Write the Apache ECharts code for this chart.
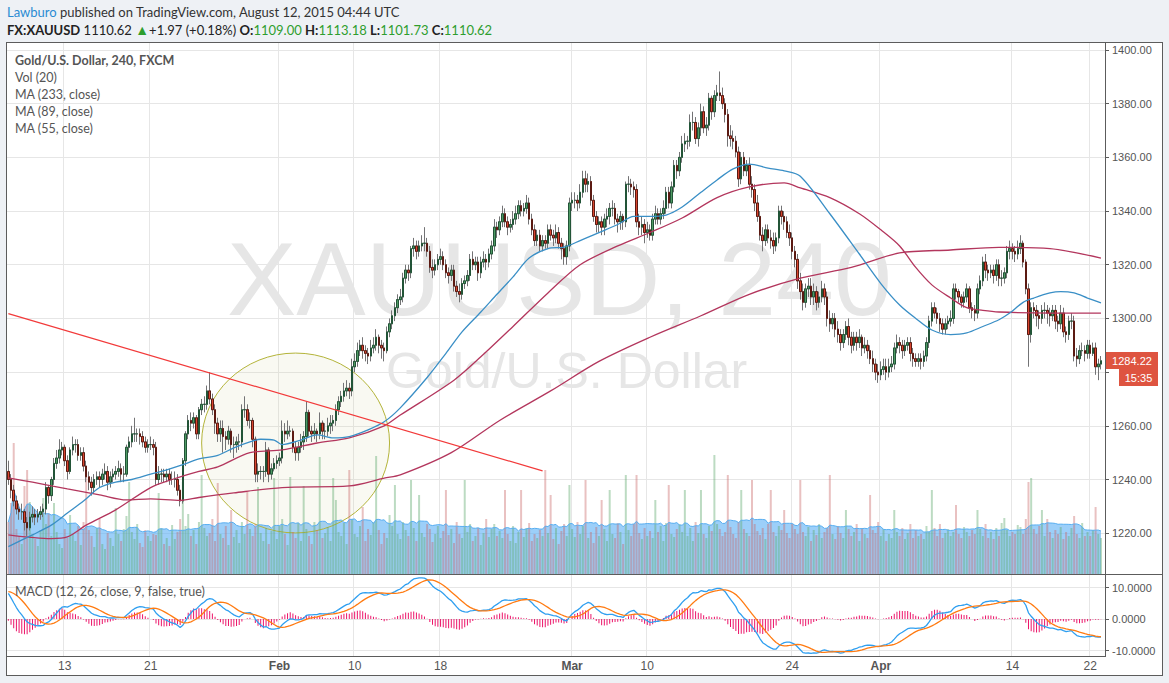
<!DOCTYPE html>
<html><head><meta charset="utf-8"><title>XAUUSD 240</title>
<script src="https://cdn.jsdelivr.net/npm/echarts@6.0.0/dist/echarts.min.js"></script>
<style>
html,body{margin:0;padding:0;}
body{width:1169px;height:683px;overflow:hidden;background:#eef1f5;position:relative;font-family:Lato,'Liberation Sans',sans-serif;}
#box{position:absolute;left:6px;top:42px;width:1157px;height:634px;box-sizing:border-box;border:1px solid #5c5c5c;background:#fff;}
.wm{position:absolute;white-space:nowrap;color:#e6e6e6;font-family:'Liberation Sans',Arial,sans-serif;line-height:1;}
#chart{position:absolute;left:0;top:0;width:1169px;height:683px;}
.hd{position:absolute;left:7px;white-space:nowrap;font-size:13px;line-height:16px;color:#333;}
.hd .g{color:#2e9e2e;}
.lg{position:absolute;left:15px;white-space:nowrap;font-size:12.5px;line-height:17px;color:#555;}
.ln{position:absolute;background:#5c5c5c;}
</style></head>
<body>
<div id="box"></div>
<div class="wm" style="left:227px;top:227px;font-size:104px;">XAUUSD, 240</div>
<div class="wm" style="left:386px;top:346px;font-size:50px;">Gold/U.S. Dollar</div>
<div id="chart"></div>
<div class="ln" style="left:6px;top:574px;width:1157px;height:1px"></div>
<div class="ln" style="left:6px;top:656px;width:1100px;height:1px"></div>
<div class="ln" style="left:1105px;top:42px;width:1px;height:615px"></div>
<div class="hd" style="top:4px"><span style="color:#2a8bd3">Lawburo</span> published on TradingView.com, August 12, 2015 04:44 UTC</div>
<div class="hd" style="top:22px;color:#222"><b>FX:XAUUSD</b> 1110.62 <span class="g" style="font-size:14px">&#9650;</span>+1.97 (+0.18%) <b>O:</b><span class="g">1109.00</span> <b>H:</b><span class="g">1113.18</span> <b>L:</b><span class="g">1101.73</span> <b>C:</b><span class="g">1110.62</span></div>
<div class="lg" style="top:52px"><b>Gold/U.S. Dollar, 240, FXCM</b><br>Vol (20)<br>MA (233, close)<br>MA (89, close)<br>MA (55, close)</div>
<div class="lg" style="top:583px">MACD (12, 26, close, 9, false, true)</div>
<script>
const firstOpen = 1243;
const closes = [
1240,1236,1232,1229,1228,1228,1224,1222,1226,1227,
1226,1227,1228,1229,1237,1234,1240,1246,1248,1251,
1252,1247,1243,1251,1253,1253,1249,1250,1245,1241,
1239,1237,1240,1241,1240,1242,1243,1239,1241,1242,
1243,1244,1242,1242,1252,1254,1257,1257,1257,1256,
1254,1252,1253,1253,1252,1240,1242,1242,1241,1242,
1240,1240,1240,1236,1232,1247,1257,1262,1261,1263,
1257,1266,1268,1268,1273,1270,1266,1261,1257,1259,
1256,1255,1258,1253,1253,1254,1254,1266,1266,1262,
1262,1255,1242,1243,1243,1243,1251,1242,1244,1246,
1247,1248,1258,1257,1258,1258,1252,1250,1252,1254,
1256,1265,1258,1257,1258,1257,1261,1258,1258,1260,
1261,1262,1266,1269,1271,1273,1274,1273,1282,1284,
1288,1290,1288,1287,1286,1289,1290,1293,1290,1289,
1288,1295,1298,1301,1304,1307,1308,1315,1318,1317,
1326,1327,1325,1327,1328,1328,1325,1319,1318,1320,
1322,1323,1320,1317,1316,1318,1312,1310,1309,1313,
1314,1316,1322,1320,1321,1317,1321,1322,1321,1324,
1327,1334,1333,1336,1339,1336,1334,1335,1337,1339,
1342,1340,1341,1343,1337,1333,1329,1331,1327,1329,
1328,1333,1331,1330,1332,1328,1326,1323,1327,1343,
1344,1344,1343,1347,1352,1350,1351,1344,1338,1335,
1336,1334,1337,1338,1341,1341,1337,1336,1338,1336,
1350,1350,1349,1348,1336,1334,1335,1332,1333,1331,
1337,1339,1337,1339,1341,1347,1343,1349,1357,1355,
1360,1365,1366,1366,1373,1373,1367,1371,1377,1371,
1372,1382,1377,1383,1384,1383,1380,1376,1368,1367,
1366,1362,1352,1360,1355,1357,1350,1348,1343,1338,
1331,1329,1333,1330,1329,1327,1330,1340,1338,1336,
1332,1330,1325,1322,1314,1310,1306,1311,1312,1308,
1310,1306,1308,1311,1308,1300,1298,1300,1296,1294,
1291,1294,1297,1293,1290,1293,1291,1293,1289,1290,
1288,1285,1283,1280,1279,1281,1282,1280,1282,1283,
1289,1291,1290,1288,1290,1291,1287,1285,1284,1285,
1284,1286,1291,1299,1304,1302,1300,1298,1296,1298,
1299,1300,1311,1310,1308,1306,1308,1311,1304,1303,
1302,1311,1314,1321,1318,1317,1318,1316,1320,1315,
1315,1317,1325,1326,1325,1324,1326,1328,1321,1311,
1294,1304,1303,1301,1300,1303,1303,1302,1301,1303,
1299,1298,1302,1295,1294,1299,1299,1286,1285,1288,
1288,1287,1290,1287,1289,1282,1283,1284.22];
const highs = [
1247,1242,1238,1234,1231,1231,1229,1226,1228,1230,
1229,1229,1230,1231,1239,1238,1241,1248,1251,1255,
1254,1253,1249,1252,1256,1255,1255,1252,1252,1247,
1243,1241,1242,1243,1243,1244,1246,1245,1243,1244,
1245,1247,1246,1245,1253,1256,1260,1263,1259,1259,
1258,1256,1255,1256,1255,1254,1245,1244,1244,1244,
1244,1243,1243,1242,1238,1248,1258,1264,1265,1265,
1264,1267,1270,1271,1275,1280,1272,1268,1263,1262,
1262,1258,1260,1259,1256,1256,1257,1268,1271,1268,
1265,1263,1256,1246,1245,1245,1254,1252,1246,1248,
1249,1250,1262,1261,1262,1260,1259,1254,1254,1257,
1258,1269,1266,1260,1261,1259,1265,1262,1261,1263,
1264,1264,1268,1271,1273,1276,1277,1276,1285,1287,
1291,1292,1293,1290,1289,1292,1293,1296,1294,1292,
1291,1297,1300,1303,1306,1309,1311,1317,1320,1320,
1327,1330,1329,1329,1331,1334,1330,1327,1322,1322,
1324,1326,1325,1322,1319,1320,1320,1314,1313,1315,
1316,1318,1324,1325,1323,1323,1323,1325,1324,1326,
1329,1337,1336,1338,1342,1341,1338,1337,1340,1342,
1344,1344,1343,1346,1345,1339,1335,1333,1333,1331,
1331,1335,1335,1333,1335,1334,1330,1328,1329,1345,
1347,1347,1346,1350,1355,1355,1354,1353,1346,1340,
1338,1338,1339,1341,1343,1344,1343,1339,1340,1339,
1351,1353,1352,1351,1350,1339,1338,1337,1336,1335,
1339,1342,1341,1341,1344,1349,1349,1351,1359,1359,
1362,1368,1369,1368,1376,1377,1375,1373,1380,1379,
1375,1384,1383,1385,1387,1392,1386,1382,1378,1372,
1370,1368,1364,1362,1362,1359,1360,1353,1350,1346,
1340,1334,1335,1335,1333,1332,1332,1342,1342,1340,
1338,1335,1332,1327,1324,1317,1313,1313,1315,1315,
1313,1312,1310,1314,1313,1310,1303,1302,1302,1299,
1296,1296,1299,1300,1295,1295,1295,1296,1294,1293,
1292,1290,1288,1285,1283,1284,1285,1285,1285,1286,
1291,1294,1293,1292,1292,1293,1293,1289,1287,1287,
1287,1288,1293,1301,1306,1306,1304,1302,1300,1300,
1301,1303,1313,1313,1311,1309,1310,1313,1312,1306,
1305,1313,1316,1323,1324,1320,1320,1320,1322,1322,
1318,1319,1327,1329,1328,1327,1329,1331,1329,1322,
1313,1306,1306,1305,1303,1305,1306,1305,1304,1305,
1305,1301,1305,1304,1297,1301,1302,1301,1289,1290,
1291,1290,1292,1292,1291,1291,1285,1286];
const lows = [
1238,1233,1230,1227,1225,1225,1221,1219,1221,1224,
1223,1224,1225,1226,1227,1231,1232,1238,1244,1246,
1249,1245,1240,1242,1249,1250,1247,1247,1243,1239,
1236,1234,1235,1238,1237,1238,1240,1236,1237,1239,
1240,1241,1239,1239,1241,1250,1252,1254,1254,1253,
1252,1250,1250,1251,1249,1238,1238,1239,1239,1239,
1238,1238,1237,1234,1230,1231,1245,1255,1258,1259,
1255,1255,1264,1265,1266,1268,1264,1257,1254,1254,
1250,1251,1253,1250,1248,1250,1251,1252,1263,1260,
1259,1252,1239,1239,1240,1239,1241,1239,1240,1243,
1244,1245,1246,1254,1255,1256,1250,1247,1247,1250,
1251,1254,1256,1254,1255,1254,1255,1255,1255,1256,
1257,1258,1260,1264,1267,1269,1271,1270,1271,1280,
1282,1286,1285,1284,1283,1284,1287,1288,1287,1285,
1284,1287,1293,1296,1299,1302,1305,1306,1313,1314,
1315,1323,1322,1323,1325,1325,1323,1317,1315,1316,
1318,1320,1318,1315,1313,1314,1310,1308,1306,1307,
1311,1312,1314,1318,1318,1314,1315,1319,1318,1319,
1322,1325,1330,1331,1334,1334,1331,1332,1333,1335,
1337,1338,1338,1339,1335,1331,1327,1327,1325,1325,
1326,1326,1329,1327,1328,1326,1322,1320,1320,1325,
1340,1341,1340,1341,1345,1347,1347,1342,1336,1332,
1332,1331,1331,1334,1335,1338,1335,1332,1333,1333,
1334,1347,1346,1345,1334,1331,1331,1328,1330,1329,
1329,1335,1335,1335,1337,1339,1341,1341,1347,1352,
1353,1358,1362,1363,1364,1370,1365,1364,1368,1369,
1368,1370,1374,1375,1381,1381,1378,1373,1364,1364,
1363,1360,1349,1350,1353,1353,1348,1345,1340,1336,
1329,1325,1327,1328,1326,1324,1325,1328,1335,1333,
1330,1327,1322,1319,1311,1307,1303,1304,1308,1305,
1305,1303,1304,1306,1305,1297,1295,1296,1293,1291,
1288,1289,1292,1290,1287,1288,1288,1289,1286,1287,
1285,1283,1280,1277,1276,1277,1279,1277,1278,1280,
1281,1287,1287,1285,1286,1288,1284,1282,1282,1282,
1281,1282,1284,1289,1297,1300,1298,1295,1294,1294,
1296,1297,1298,1307,1306,1304,1304,1306,1302,1300,
1299,1300,1309,1312,1315,1314,1315,1313,1314,1312,
1312,1313,1315,1322,1322,1321,1322,1324,1319,1309,
1282,1291,1300,1297,1296,1298,1300,1298,1297,1299,
1296,1295,1296,1293,1291,1292,1296,1284,1282,1283,
1286,1284,1285,1285,1286,1279,1277,1281];
const volumes = [
52,71,131,45,38,30,88,104,72,40,
35,28,44,76,50,61,38,71,42,30,
26,45,36,59,40,33,48,29,52,101,
44,38,27,46,55,30,25,41,36,28,
66,40,33,45,58,92,42,35,50,31,
27,44,38,33,40,39,81,46,30,36,
28,49,35,42,55,92,48,60,38,44,
30,52,99,46,38,41,55,33,91,40,
36,48,29,64,37,44,31,52,40,82,
45,38,50,87,41,33,46,30,43,96,
35,48,55,40,29,97,42,36,51,33,
88,45,38,30,52,44,117,36,41,47,
33,96,74,42,38,51,30,104,55,40,
37,48,67,33,45,39,52,118,44,30,
41,36,59,48,89,40,35,52,44,38,
94,46,33,79,41,37,50,45,32,40,
48,36,43,84,39,45,31,52,40,36,
94,42,50,33,38,46,29,41,55,37,
45,50,38,43,36,84,40,33,48,31,
42,84,37,46,51,33,40,36,44,38,
104,41,79,35,46,30,43,50,38,89,
45,37,52,40,48,94,36,42,31,47,
38,74,45,33,84,40,36,51,42,30,
99,44,38,50,99,41,35,46,38,43,
36,74,42,48,33,51,89,40,37,45,
50,42,84,38,46,33,52,41,84,40,
36,48,43,119,50,45,38,42,99,47,
40,36,52,84,45,41,38,94,50,43,
39,46,35,50,84,42,38,48,44,64,
41,36,50,45,40,94,42,38,47,33,
44,39,50,36,42,46,99,40,35,48,
41,36,64,45,38,42,50,33,46,40,
36,79,44,41,52,38,45,33,40,36,
64,42,38,46,35,41,50,36,44,38,
40,35,48,42,84,46,38,50,36,41,
45,38,42,69,40,36,47,42,38,44,
40,64,45,38,50,36,42,35,46,38,
51,56,44,38,42,40,49,47,40,55,
92,96,45,40,48,64,38,55,42,36,
44,40,47,35,42,38,46,58,40,36,
51,38,42,38,44,67,40,36];
// moving averages: [candle index, value]
const ma55 = [[0,1215],[9,1219.4],[16,1223],[22,1227.5],[28,1232],[34,1237],[40,1239],[46,1240],[53,1242],[59,1243.6],[65,1245.5],[71,1247.7],[78,1249],[84,1251.8],[90,1254],[94,1255],[99,1254.7],[102,1253],[109,1254.7],[115,1256.6],[121,1255.5],[127,1256],[134,1258.5],[140,1261.5],[146,1266.7],[156,1278],[163,1287],[169,1295],[176,1302.4],[182,1309],[188,1315.5],[194,1322.5],[201,1326],[207,1326.6],[213,1329],[220,1332],[227,1335],[233,1338],[239,1338],[245,1338.5],[251,1341.5],[258,1347],[264,1351.6],[270,1355.7],[276,1357.5],[283,1356],[289,1355],[295,1353],[306,1339],[317,1324],[325,1313],[332,1305],[338,1300],[344,1295.7],[351,1294],[357,1294.6],[363,1297],[369,1299.5],[373,1302],[378,1306],[382,1307.6],[388,1309.5],[392,1310],[397,1309.5],[402,1307.6],[407,1305.8]];
const ma89 = [[0,1219.4],[16,1218],[22,1218.6],[29,1223],[40,1228.7],[53,1237],[61,1240],[71,1243],[78,1244.7],[90,1250],[102,1251],[115,1253.6],[127,1255.5],[140,1260],[146,1264],[166,1277],[176,1285.7],[188,1297],[201,1309.5],[213,1320],[227,1327],[239,1332],[251,1337.4],[264,1345],[276,1349],[289,1350.5],[295,1348.6],[306,1345],[317,1339],[325,1333],[332,1327],[338,1319],[344,1312.5],[351,1307.6],[357,1304],[363,1303],[369,1302.4],[388,1302],[407,1302]];
const ma233 = [[0,1240.6],[9,1239],[22,1236.5],[34,1234.3],[44,1232.4],[53,1232.8],[64,1232.2],[71,1233.3],[84,1235],[102,1237],[127,1237.6],[140,1240.5],[146,1241.7],[165,1250],[183,1262],[202,1273],[220,1284],[239,1293],[258,1301],[276,1309],[295,1315],[314,1319],[332,1324.4],[351,1325.5],[369,1326.5],[388,1326],[407,1322.5]];
const trendLine = [[0,1301.8],[199,1243.2]];
const circleMark = {idx:107, price:1253.6, rIdx:35, rPrice:33.5};
const macdSeed = {fast:1248, slow:1238.5, signal:8.8};
const tickIdx = [21,53,101,129,161,210,238,292,325,374,403];
const tickText = ['13','21','Feb','10','18','Mar','10','24','Apr','14','22'];
const priceTicks = [1220,1240,1260,1280,1300,1320,1340,1360,1380,1400];
const priceLabels = [1220,1240,1260,1300,1320,1340,1360,1380,1400]; // 1280.00 sits under the last-price badge
const macdTicks = [-10,0,10];
const lastTime = '15:35';

const N = closes.length;
const categories = Array.from({length: N + 1}, (_, i) => String(i));
const opens = closes.map((c, i) => i === 0 ? firstOpen : closes[i - 1]);
const wickData = closes.map((c, i) => [opens[i], c, Math.min(lows[i], opens[i], c), Math.max(highs[i], opens[i], c)]);
const bodyData = closes.map((c, i) => [opens[i], c, Math.min(opens[i], c), Math.max(opens[i], c)]);
const volData = volumes.map((v, i) => ({value: v, itemStyle: {color: closes[i] >= opens[i] ? 'rgba(95,170,110,0.42)' : 'rgba(200,100,100,0.40)'}}));
const volMA = volumes.map((v, i) => { const w = volumes.slice(Math.max(0, i - 19), i + 1); return +(w.reduce((a, b) => a + b, 0) / w.length).toFixed(2); });
const macd = [], signal = [], hist = [];
let ef = macdSeed.fast, es = macdSeed.slow;
closes.forEach(c => { ef += (2 / 13) * (c - ef); es += (2 / 27) * (c - es); macd.push(ef - es); });
macd.forEach((m, i) => {
  let s = 0; for (let j = i - 8; j <= i; j++) s += j < 0 ? macdSeed.signal : macd[j];
  signal.push(+(s / 9).toFixed(3)); hist.push(+(m - s / 9).toFixed(3));
});
const macdLine = macd.map(v => +v.toFixed(3));
const tickSet = new Set(tickIdx);
const tickMap = {}; tickIdx.forEach((k, j) => tickMap[k] = tickText[j]);
const months = new Set(['Jan', 'Feb', 'Mar', 'Apr']);
const FONT = "'Liberation Sans', Arial, sans-serif";
const grid0 = '#e6e6e6';

const chart = echarts.init(document.getElementById('chart'), null, {renderer: 'svg', width: 1169, height: 683});
chart.setOption({
  animation: false,
  grid: [
    {left: 7, top: 43, width: 1098, height: 531},
    {left: 7, top: 374, width: 1098, height: 200},
    {left: 7, top: 575, width: 1098, height: 82}
  ],
  xAxis: [
    {type: 'category', gridIndex: 0, data: categories, boundaryGap: true, axisLine: {show: false}, axisTick: {show: false}, axisLabel: {show: false},
     splitLine: {show: true, interval: (i) => tickSet.has(i), lineStyle: {color: grid0}}},
    {type: 'category', gridIndex: 1, data: categories, boundaryGap: true, show: false},
    {type: 'category', gridIndex: 2, data: categories, boundaryGap: true, axisLine: {show: false}, axisTick: {show: false},
     axisLabel: {show: true, interval: (i) => tickSet.has(i), margin: 3, color: '#555', fontSize: 12, fontFamily: FONT,
       formatter: (v) => { const t = tickMap[+v] || ''; return months.has(t) ? '{b|' + t + '}' : t; },
       rich: {b: {fontWeight: 'bold', color: '#555', fontSize: 12, fontFamily: FONT}}},
     splitLine: {show: true, interval: (i) => tickSet.has(i), lineStyle: {color: grid0}}}
  ],
  yAxis: [
    {type: 'value', gridIndex: 0, position: 'right', min: 1204.8, max: 1402.6,
     axisLine: {show: false}, axisTick: {show: true, length: 4, customValues: priceTicks, lineStyle: {color: '#5c5c5c'}},
     axisLabel: {customValues: priceLabels, formatter: (v) => Number(v).toFixed(2), color: '#555', fontSize: 11, fontFamily: FONT, margin: 7},
     splitLine: {show: true, lineStyle: {color: grid0}}},
    {type: 'value', gridIndex: 1, min: 0, max: 200, show: false},
    {type: 'value', gridIndex: 2, position: 'right', min: -12.06, max: 13.97,
     axisLine: {show: false}, axisTick: {show: true, length: 4, customValues: macdTicks, lineStyle: {color: '#5c5c5c'}},
     axisLabel: {customValues: macdTicks, formatter: (v) => Number(v).toFixed(4), color: '#555', fontSize: 11, fontFamily: FONT, margin: 7},
     splitLine: {show: true, lineStyle: {color: grid0}}}
  ],
  series: [
    {type: 'bar', name: 'Vol', xAxisIndex: 1, yAxisIndex: 1, data: volData, barWidth: 2, z: 1, silent: true},
    {type: 'line', name: 'VolMA', xAxisIndex: 1, yAxisIndex: 1, data: volMA, showSymbol: false, z: 1,
     lineStyle: {color: '#58aef0', width: 1}, areaStyle: {color: 'rgba(96,178,245,0.62)', opacity: 1}, silent: true},
    {type: 'candlestick', name: 'wick', xAxisIndex: 0, yAxisIndex: 0, data: wickData, barWidth: 2, z: 3, silent: true,
     itemStyle: {color: 'rgba(0,0,0,0)', color0: 'rgba(0,0,0,0)', borderColor: '#737375', borderColor0: '#737375', borderWidth: 1}},
    {type: 'candlestick', name: 'XAUUSD', xAxisIndex: 0, yAxisIndex: 0, data: bodyData, barWidth: 2, z: 4, silent: true,
     itemStyle: {color: '#4f9a64', color0: '#d9462f', borderColor: '#225437', borderColor0: '#5b1a12', borderWidth: 1}},
    {type: 'line', name: 'MA233', xAxisIndex: 0, yAxisIndex: 0, data: ma233, smooth: 0.3, showSymbol: false, z: 5, lineStyle: {color: '#b3365d', width: 1.3}},
    {type: 'line', name: 'MA89', xAxisIndex: 0, yAxisIndex: 0, data: ma89, smooth: 0.3, showSymbol: false, z: 5, lineStyle: {color: '#b3365d', width: 1.3}},
    {type: 'line', name: 'MA55', xAxisIndex: 0, yAxisIndex: 0, data: ma55, smooth: 0.3, showSymbol: false, z: 5, lineStyle: {color: '#3a8fc6', width: 1.3}},
    {type: 'line', name: 'trend', xAxisIndex: 0, yAxisIndex: 0, data: trendLine, showSymbol: false, z: 6, lineStyle: {color: '#f23a3a', width: 1.2}},
    {type: 'bar', name: 'Hist', xAxisIndex: 2, yAxisIndex: 2, data: hist, barWidth: 1, itemStyle: {color: '#ec1469'}, z: 2},
    {type: 'line', name: 'MACD', xAxisIndex: 2, yAxisIndex: 2, data: macdLine, showSymbol: false, z: 3, lineStyle: {color: '#2f9ff0', width: 1.3}},
    {type: 'line', name: 'Signal', xAxisIndex: 2, yAxisIndex: 2, data: signal, showSymbol: false, z: 3, lineStyle: {color: '#ff7b12', width: 1.3}}
  ]
});
const c0 = chart.convertToPixel({gridIndex: 0}, [circleMark.idx, circleMark.price]);
const c1 = chart.convertToPixel({gridIndex: 0}, [circleMark.idx + circleMark.rIdx, circleMark.price - circleMark.rPrice]);
const lastClose = closes[N - 1];
const pl = chart.convertToPixel({gridIndex: 0}, [N - 1, lastClose]);
const py = Math.round(pl[1]);
chart.setOption({
  graphic: [
    {type: 'ellipse', silent: true, z: 1, shape: {cx: c0[0], cy: c0[1], rx: Math.abs(c1[0] - c0[0]), ry: Math.abs(c1[1] - c0[1])},
     style: {fill: 'rgba(215,215,160,0.14)', stroke: '#b4b43a', lineWidth: 1}},
    {type: 'rect', z: 50, shape: {x: 1106, y: py - 9, width: 52, height: 17}, style: {fill: '#de5440'}},
    {type: 'text', z: 51, style: {text: lastClose.toFixed(2), x: 1132, y: py - 0.5, fill: '#fff', font: '11px ' + FONT, textAlign: 'center', textVerticalAlign: 'middle', verticalAlign: 'middle'}},
    {type: 'rect', z: 50, shape: {x: 1119, y: py + 8, width: 39, height: 17}, style: {fill: '#de5440'}},
    {type: 'text', z: 51, style: {text: lastTime, x: 1138.5, y: py + 16.5, fill: '#fff', font: '11px ' + FONT, textAlign: 'center', textVerticalAlign: 'middle', verticalAlign: 'middle'}}
  ]
});
</script>
</body></html>
